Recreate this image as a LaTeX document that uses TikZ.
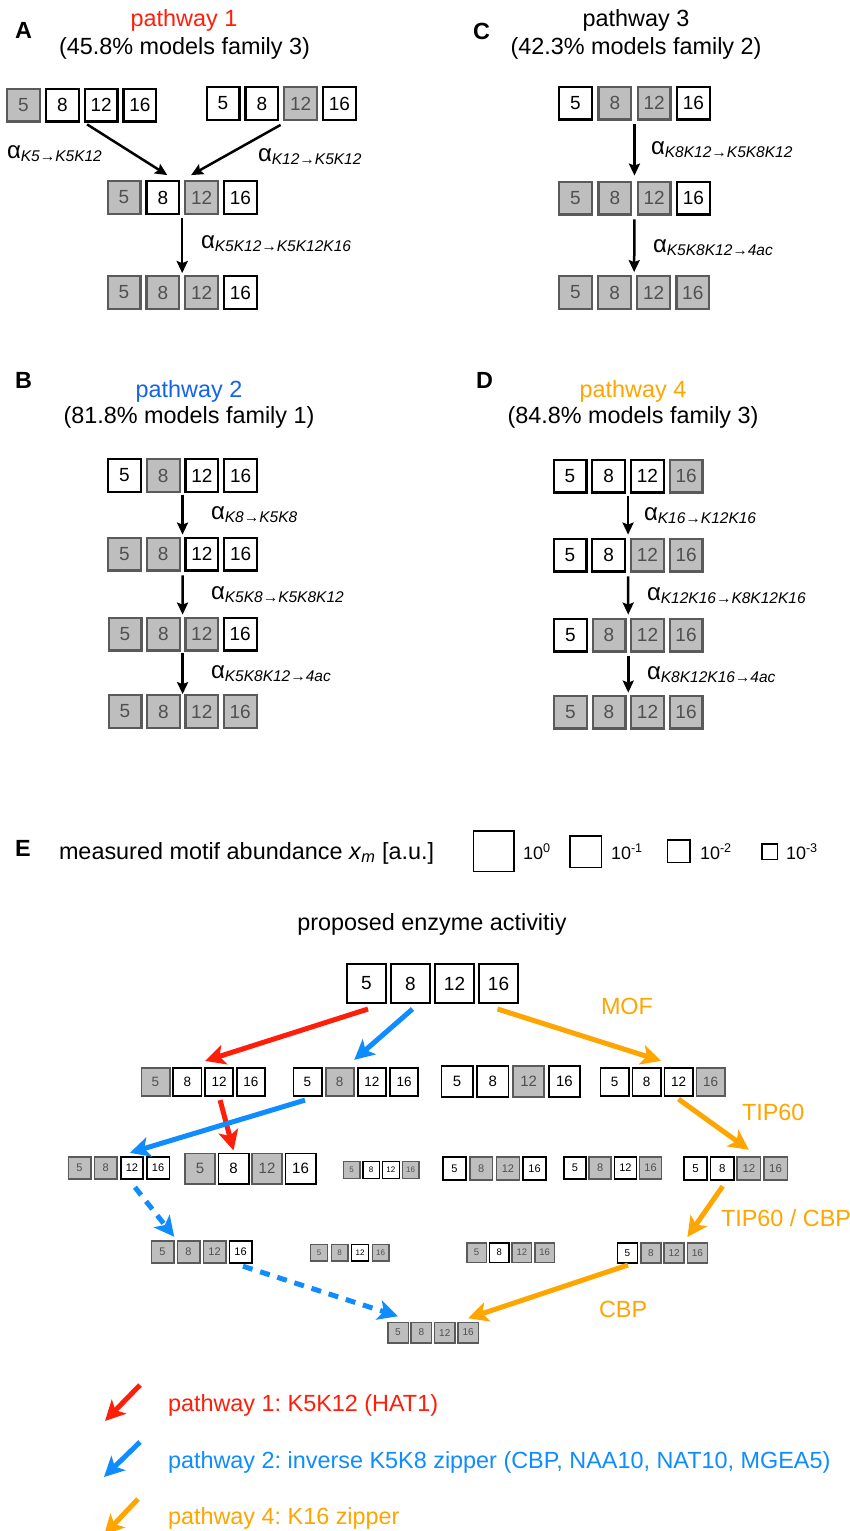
\documentclass[tikz,border=0pt]{standalone}
\usepackage{fontspec}
\setmainfont{Liberation Sans}
\usetikzlibrary{arrows.meta,calc}
\definecolor{pred}{RGB}{255,30,10}
\definecolor{pblue}{RGB}{20,100,235}
\definecolor{lblue}{RGB}{15,140,255}
\definecolor{porange}{RGB}{255,165,0}
\definecolor{gfill}{RGB}{190,190,190}
\definecolor{gline}{RGB}{90,90,90}
\definecolor{gtext}{RGB}{80,80,80}
\frenchspacing
\newcommand\myfs[1]{\fontsize{#1}{#1}\selectfont}
\newcommand\klab[1]{\ifcase#1\or5\or8\or12\or16\fi}
\newcommand\arate[2]{{\myfs{24}α}\raisebox{-3.5pt}{\myfs{15.5}\itshape #1→#2}}
\tikzset{
  kw/.style={draw=black, fill=white, text=black},
  kg/.style={draw=gline, fill=gfill, text=gtext},
  kb/.code={\if#1g\pgfkeysalso{kg}\else\pgfkeysalso{kw}\fi},
  ttl/.style={font=\myfs{23.4}},
  plet/.style={font=\myfs{23.4}\bfseries},
  alab/.style={anchor=base west},
  parr/.style={line width=2.5pt, -{Stealth[length=12pt,width=11pt,inset=2pt]}},
  earr/.style={line width=5pt, -{Stealth[length=20pt,width=20pt,inset=5pt]}},
  dsh/.style={dash pattern=on 10pt off 8pt},
  elab/.style={font=\myfs{23.4}, text=porange, anchor=base west},
  lgbox/.style={draw=black, fill=white, line width=1.5pt},
  lgtxt/.style={font=\myfs{18}, anchor=base west},
}
% name, x0, y, outer size, spacing, font size, line width, states
\newcommand\krow[8]{%
  \foreach \st [count=\i] in {#8}{%
    \node[kb=\st, inner sep=0pt, line width=#7pt, minimum size={#4pt-#7pt}, font=\myfs{#6}]
      (#1-\i) at ({#2+(\i-1)*#5},#3) {\klab{\i}};
  }%
}
\begin{document}
\begin{tikzpicture}[x=1pt,y=-1pt, every node/.style={inner sep=0pt, outer sep=0pt}]
\useasboundingbox (0,0) rectangle (850,1531);
\fill[white] (0,0) rectangle (850,1531);

% ---------------- Panel A
\node[plet, anchor=base] (LA) at (23.5,38) {A};
\node[ttl, text=pred, anchor=base] (TA1) at (184,27) {pathway 1};
\node[ttl, anchor=base] (TA2) at (184.5,54) {(45.8\% models family 3)};
\krow{A1}{23.5}{105}{35}{38.8}{19}{2.2}{g,w,w,w}
\krow{A2}{223}{103.5}{35}{38.8}{19}{2.2}{w,w,g,w}
\krow{A3}{124}{197.5}{35}{38.8}{19}{2.2}{g,w,g,w}
\krow{A4}{124}{292.5}{35}{38.8}{19}{2.2}{g,g,g,w}
\draw[parr] ($(A1-3.south)+(-14,3)$) -- ($(A3-2.north)+(4.5,-6)$);
\draw[parr] ($(A2-3.south)+(-20,5)$) -- ($(A3-3.north)+(-10.5,-6)$);
\draw[parr] ($(A3-2.south)!0.5!(A3-3.south)+(0,4)$) -- ($(A4-2.north)!0.5!(A4-3.north)+(0,-3)$);
\node[alab] (aA1) at (7,158) {\arate{K5}{K5K12}};
\node[alab] (aA2) at (258,161) {\arate{K12}{K5K12}};
\node[alab] (aA3) at (201,248) {\arate{K5K12}{K5K12K16}};

% ---------------- Panel C
\node[plet, anchor=base] (LC) at (481.5,39) {C};
\node[ttl, anchor=base] (TC1) at (636,27) {pathway 3};
\node[ttl, anchor=base] (TC2) at (636,54) {(42.3\% models family 2)};
\krow{C1}{575.5}{103}{35}{39.3}{19}{2.2}{w,g,g,w}
\krow{C2}{575.5}{198}{35}{39.3}{19}{2.2}{g,g,g,w}
\krow{C3}{575.5}{292.5}{35}{39.1}{19}{2.2}{g,g,g,g}
\draw[parr] ($(C1-2.south)!0.5!(C1-3.south)+(0,5)$) -- ($(C2-2.north)!0.5!(C2-3.north)+(0,-6)$);
\draw[parr] ($(C2-2.south)!0.5!(C2-3.south)+(0,5)$) -- ($(C3-2.north)!0.5!(C3-3.north)+(0,-4)$);
\node[alab] (aC1) at (651,154) {\arate{K8K12}{K5K8K12}};
\node[alab] (aC2) at (653,252) {\arate{K5K8K12}{4ac}};

% ---------------- Panel B
\node[plet, anchor=base] (LB) at (23.5,388) {B};
\node[ttl, text=pblue, anchor=base] (TB1) at (189,397) {pathway 2};
\node[ttl, anchor=base] (TB2) at (189,423) {(81.8\% models family 1)};
\krow{B1}{124.5}{475.5}{35}{38.7}{19}{2.2}{w,g,w,w}
\krow{B2}{124.5}{554}{35}{38.7}{19}{2.2}{g,g,w,w}
\krow{B3}{125}{634}{35}{38.4}{19}{2.2}{g,g,g,w}
\krow{B4}{125}{711.5}{35}{38.4}{19}{2.2}{g,g,g,g}
\draw[parr] ($(B1-2.south)!0.5!(B1-3.south)+(0,3)$) -- ($(B2-2.north)!0.5!(B2-3.north)+(0,-3)$);
\draw[parr] ($(B2-2.south)!0.5!(B2-3.south)+(0,5)$) -- ($(B3-2.north)!0.5!(B3-3.north)+(0,-3)$);
\draw[parr] ($(B3-2.south)!0.5!(B3-3.south)+(0,3)$) -- ($(B4-2.north)!0.5!(B4-3.north)+(0,-1)$);
\node[alab] (aB1) at (211,519) {\arate{K8}{K5K8}};
\node[alab] (aB2) at (211,599) {\arate{K5K8}{K5K8K12}};
\node[alab] (aB3) at (211,678) {\arate{K5K8K12}{4ac}};

% ---------------- Panel D
\node[plet, anchor=base] (LD) at (484.5,388) {D};
\node[ttl, text=porange, anchor=base] (TD1) at (633,397) {pathway 4};
\node[ttl, anchor=base] (TD2) at (633,423) {(84.8\% models family 3)};
\krow{D1}{570}{476}{35}{38.7}{19}{2.2}{w,w,w,g}
\krow{D2}{570}{555}{35}{38.7}{19}{2.2}{w,w,g,g}
\krow{D3}{570.5}{635}{35}{38.5}{19}{2.2}{w,g,g,g}
\krow{D4}{570.5}{712}{35}{38.5}{19}{2.2}{g,g,g,g}
\draw[parr] ($(D1-2.south)!0.5!(D1-3.south)+(0,4)$) -- ($(D2-2.north)!0.5!(D2-3.north)+(0,-4)$);
\draw[parr] ($(D2-2.south)!0.5!(D2-3.south)+(0,5)$) -- ($(D3-2.north)!0.5!(D3-3.north)+(0,-4)$);
\draw[parr] ($(D3-2.south)!0.5!(D3-3.south)+(0,5)$) -- ($(D4-2.north)!0.5!(D4-3.north)+(0,-3)$);
\node[alab] (aD1) at (644,520) {\arate{K16}{K12K16}};
\node[alab] (aD2) at (647,600) {\arate{K12K16}{K8K12K16}};
\node[alab] (aD3) at (647,679) {\arate{K8K12K16}{4ac}};

% ---------------- Panel E legend
\node[plet, anchor=base] (LE) at (23,856) {E};
\node[ttl, anchor=base west] (ET) at (59,859) {measured motif abundance \textit{x}\textsubscript{\textit{m}} [a.u.]};
\node[lgbox, minimum size=40.5pt] (S0) at (493.5,851) {};
\node[lgtxt] (S0t) at (523,859) {10\textsuperscript{0}};
\node[lgbox, minimum size=31.5pt] (S1) at (585.5,851.5) {};
\node[lgtxt] (S1t) at (611,859) {10\textsuperscript{-1}};
\node[lgbox, minimum size=22.5pt] (S2) at (678.5,851) {};
\node[lgtxt] (S2t) at (700,859) {10\textsuperscript{-2}};
\node[lgbox, minimum size=15.5pt] (S3) at (769.5,851.5) {};
\node[lgtxt] (S3t) at (786,859) {10\textsuperscript{-3}};
\node[ttl, anchor=base] (PE) at (432,930) {proposed enzyme activitiy};

% ---------------- Panel E network
\krow{T}{366.5}{983.5}{41}{44}{19}{2}{w,w,w,w}
\krow{R2a}{155.5}{1082}{30}{31.8}{13.5}{1.8}{g,w,w,w}
\krow{R2b}{307.5}{1082}{30}{32.2}{13.5}{1.8}{w,g,w,w}
\krow{R2c}{457}{1081.5}{33}{35.8}{15}{1.8}{w,w,g,w}
\krow{R2d}{614.5}{1082}{30}{32}{13.5}{1.8}{w,w,w,g}
\krow{R3a}{79.5}{1168}{24}{26.2}{11}{1.6}{g,g,w,w}
\krow{R3b}{200}{1168.5}{32}{33.5}{15}{1.8}{g,w,g,w}
\krow{R3c}{351.5}{1170}{18}{19.7}{8}{1.4}{g,w,w,g}
\krow{R3d}{454.5}{1168.5}{24.5}{26.7}{11}{1.6}{w,g,g,w}
\krow{R3e}{575}{1168}{23.5}{25.2}{11}{1.6}{w,g,w,g}
\krow{R3f}{695.5}{1168.5}{25}{26.7}{11.5}{1.6}{w,w,g,g}
\krow{R4a}{162.5}{1252}{24}{26}{11}{1.6}{g,g,g,w}
\krow{R4b}{319}{1252.5}{18}{20.5}{8}{1.4}{g,g,w,g}
\krow{R4c}{476.5}{1252.5}{21}{22.7}{9.5}{1.5}{g,w,g,g}
\krow{R4d}{627.5}{1253}{21.5}{23.3}{10}{1.5}{w,g,g,g}
\krow{R5}{398}{1332.5}{22}{23.4}{10}{1.5}{g,g,g,g}

\draw[earr, pred] ($(T-1.south)+(1.5,6)$) -- ($(R2a-3.north)+(-14,-7)$);
\draw[earr, lblue] ($(T-2.south)+(2,6)$) -- ($(R2b-2.north)+(14.5,-8)$);
\draw[earr, porange] ($(T-4.south)+(-1,6)$) -- ($(R2d-2.north east)+(0.5,-7)$);
\draw[earr, pred] ($(R2a-3.south)+(1,4)$) -- ($(R3b-2.north)+(0,-3)$);
\draw[earr, lblue] ($(R2b-1.south)+(-2.5,4)$) -- ($(R3a-3.north)+(-2,-4)$);
\draw[earr, porange] ($(R2d-3.south)+(0,3)$) -- ($(R3f-3.north)+(0,-7)$);
\draw[earr, lblue, dsh] ($(R3a-3.south)+(3,8)$) -- ($(R4a-1.north east)+(0.5,-4)$);
\draw[earr, lblue, dsh] ($(R4a-4.south)+(2.5,3)$) -- ($(R5-1.north)+(0,-6)$);
\draw[earr, porange] ($(R3f-2.south)+(0.5,6)$) -- ($(R4d-4.north west)+(0,-6)$);
\draw[earr, porange] ($(R4d-1.south)+(0.5,2)$) -- ($(R5-4.north)+(0,-4)$);

\node[elab] (MOF) at (601,1014) {MOF};
\node[elab] (TIP) at (742,1120) {TIP60};
\node[elab] (TCB) at (721,1226) {TIP60 / CBP};
\node[elab] (CBP) at (599,1317) {CBP};

% ---------------- bottom legend
\node[ttl, text=pred, anchor=base west] (L1) at (168,1411) {pathway 1: K5K12 (HAT1)};
\node[ttl, text=lblue, anchor=base west] (L2) at (168,1468) {pathway 2: inverse K5K8 zipper (CBP, NAA10, NAT10, MGEA5)};
\node[ttl, text=porange, anchor=base west] (L3) at (168,1524) {pathway 4: K16 zipper};
\coordinate (L1s) at (140,1385); \coordinate (L1e) at (105,1421);
\coordinate (L2s) at (140,1442); \coordinate (L2e) at (104,1477);
\coordinate (L3s) at (138,1499); \coordinate (L3e) at (104,1535);
\draw[earr, pred] (L1s) -- (L1e);
\draw[earr, lblue] (L2s) -- (L2e);
\draw[earr, porange] (L3s) -- (L3e);
\end{tikzpicture}
\end{document}
